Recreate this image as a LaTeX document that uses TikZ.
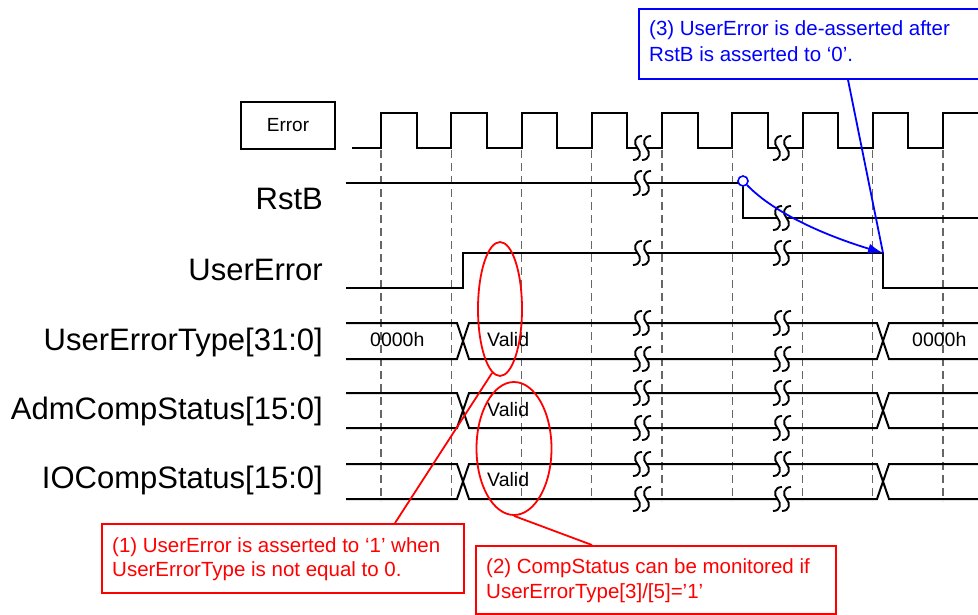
\documentclass[tikz,border=0pt]{standalone}
\usepackage{fontspec}
\setmainfont{Liberation Sans}
\usetikzlibrary{arrows.meta,shapes.geometric}

\begin{document}
\begin{tikzpicture}[x=1pt,y=-1pt,
  sig/.style={line width=2pt},
  gridline/.style={draw=black!60, line width=1.3pt, dash pattern=on 8pt off 5pt},
  lbl/.style={anchor=base east, inner sep=0pt, font=\fontsize{31}{37}\selectfont},
  val/.style={anchor=base west, inner sep=0pt, font=\fontsize{19.5}{23}\selectfont},
  note/.style={anchor=base west, inner sep=0pt, font=\fontsize{20.5}{24}\selectfont},
  redbox/.style={draw=red, line width=1.8pt, fill=white, rectangle, inner sep=0pt, anchor=north west},
  bluebox/.style={draw=blue, line width=1.8pt, fill=white, rectangle, inner sep=0pt, anchor=north west},
  mark ring/.style={draw=red, ellipse, line width=1.8pt, inner sep=0pt},
  brk/.pic={
    \fill[white] (-4.5,-3.5) rectangle (4.5,3.5);
    \foreach \c in {-4.5,4.5}{
      \draw[line width=1.9pt] (\c+4.5,-12) .. controls (\c-3.5,-12) and (\c-4,-4) .. (\c,0)
        .. controls (\c+4,4) and (\c+3.5,12) .. (\c-4.5,12);
    }
  }
]
\useasboundingbox (0,0) rectangle (978,615);
\clip (0,0) rectangle (978,615);

% clock reference lines
\foreach \k in {0,...,8}
  \draw[gridline] ({381+70.25*\k},150) -- ({381+70.25*\k},501);

% Error clock
\draw[sig] (352,148) foreach \k in {0,...,8} {
  -- ({381+70.25*\k},148) -- ({381+70.25*\k},113)
  -- ({416.5+70.25*\k},113) -- ({416.5+70.25*\k},148) } -- (985,148);

% RstB and UserError
\draw[sig] (346,183) -- (743,183) -- (743,218) -- (985,218);
\draw[sig] (346,288) -- (463,288) -- (463,253) -- (883,253) -- (883,288) -- (985,288);

% buses
\foreach \t/\b in {323/359, 393/428, 464/499}{
  \draw[sig] (346,\t) -- (457,\t) -- (469,\b) -- (877,\b) -- (889,\t) -- (985,\t);
  \draw[sig] (346,\b) -- (457,\b) -- (469,\t) -- (877,\t) -- (889,\b) -- (985,\b);
}

% time breaks
\foreach \y in {148,253,323,359,393,428,464,499}{
  \pic at (642,\y) {brk};
  \pic at (782,\y) {brk};
}
\pic at (642,183) {brk};
\pic at (782,218) {brk};

% signal names
\node[draw, line width=1.3pt, minimum width=94pt, minimum height=47pt, inner sep=0pt,
      font=\fontsize{19}{23}\selectfont] (err) at (288,125.5) {Error};
\node[lbl] (lrst) at (323,210) {RstB};
\node[lbl] (luerr) at (323,280) {UserError};
\node[lbl] (ltype) at (323,350) {UserErrorType[31:0]};
\node[lbl] (ladm) at (323,419) {AdmCompStatus[15:0]};
\node[lbl] (lio) at (323,488) {IOCompStatus[15:0]};

% bus values
\node[val] (v0) at (370,346) {0000h};
\node[val] (v1) at (487,346) {Valid};
\node[val] (v2) at (487,416) {Valid};
\node[val] (v3) at (487,486) {Valid};
\node[val] (v4) at (912,346) {0000h};

% highlighted regions
\node[mark ring, minimum width=44pt, minimum height=134pt] (e1) at (500,309) {};
\node[mark ring, minimum width=75pt, minimum height=133pt] (e2) at (514,448.5) {};

% note (1)
\node[redbox, minimum width=362pt, minimum height=69pt] (c1) at (101,523) {};
\node[note, red] (c1a) at (112,552) {(1) UserError is asserted to ‘1’ when};
\node[note, red] (c1b) at (112,576) {UserErrorType is not equal to 0.};
\draw[red, line width=1.8pt] (e1.263) -- ([xshift=294pt]c1.north west);

% note (2)
\node[redbox, minimum width=360pt, minimum height=68pt] (c2) at (475,545) {};
\node[note, red] (c2a) at (486,573) {(2) CompStatus can be monitored if};
\node[note, red] (c2b) at (486,598) {UserErrorType[3]/[5]=’1’};
\draw[red, line width=1.8pt] (e2.south) -- ([xshift=117pt]c2.north west);

% note (3)
\node[bluebox, minimum width=360pt, minimum height=70pt] (c3) at (638,8) {};
\node[note, blue] (c3a) at (649,36) {(3) UserError is de-asserted after};
\node[note, blue] (c3b) at (649,61.5) {RstB is asserted to ‘0’.};

\coordinate (uefall) at (883,253);
\node[circle, draw=blue, fill=white, line width=1.6pt, minimum size=10pt, inner sep=0pt] (rc) at (743,181) {};
\draw[blue, line width=1.8pt, -{Latex[length=15pt,width=10pt]}]
  (rc.-45) .. controls (776,215) and (830,237) .. (uefall);
\draw[blue, line width=1.8pt] ([xshift=210pt]c3.south west) -- (uefall);
\end{tikzpicture}
\end{document}
